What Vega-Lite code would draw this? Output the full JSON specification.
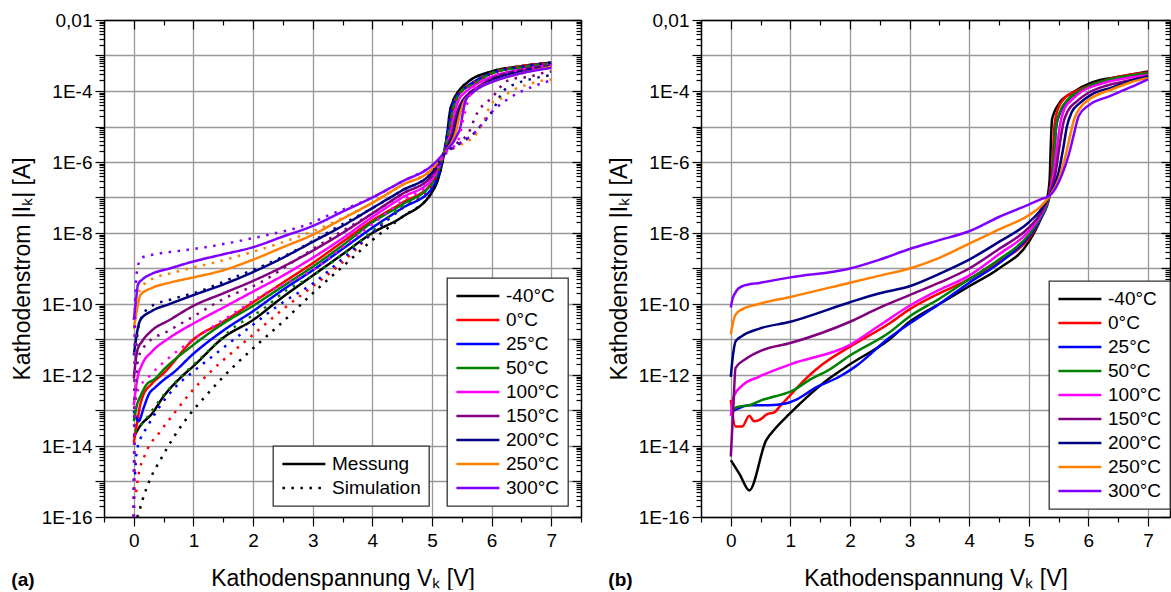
{
"$schema": "https://vega.github.io/schema/vega-lite/v6.json",
"padding": {"left": 11, "top": 11, "right": 0, "bottom": 0},
"config": {
 "font": "Liberation Sans",
 "view": {"stroke": null},
 "axis": {"labelFont": "Liberation Sans", "titleFont": "Liberation Sans", "labelFontSize": 19, "titleFontSize": 23, "titleFontWeight": "normal", "labelColor": "#000", "titleColor": "#000", "domainColor": "#000", "domainWidth": 1.5, "tickColor": "#000", "tickWidth": 1.2, "gridColor": "#999999", "gridWidth": 1.3, "labelFlush": false, "labelOverlap": false},
 "legend": {"labelFont": "Liberation Sans", "labelFontSize": 19, "labelColor": "#000", "title": null, "orient": "none", "direction": "vertical", "symbolType": "M-1,0H4", "symbolSize": 296, "symbolStrokeWidth": 2.5, "labelOffset": 31, "rowPadding": 4, "padding": 8, "strokeColor": "#333333", "strokeWidth": 1.3, "fillColor": "#ffffff", "cornerRadius": 0}
},
"datasets": {
"a": [
{"T":"-40°C","s":"Messung","x":0,"y":1.78e-14},{"T":"-40°C","s":"Messung","x":0.1,"y":3.55e-14},{"T":"-40°C","s":"Messung","x":0.3,"y":7.94e-14},{"T":"-40°C","s":"Messung","x":0.5,"y":2.51e-13},{"T":"-40°C","s":"Messung","x":0.8,"y":8.91e-13},{"T":"-40°C","s":"Messung","x":1,"y":1.78e-12},{"T":"-40°C","s":"Messung","x":1.5,"y":1.12e-11},{"T":"-40°C","s":"Messung","x":2,"y":3.55e-11},{"T":"-40°C","s":"Messung","x":2.5,"y":1.58e-10},{"T":"-40°C","s":"Messung","x":3,"y":6.31e-10},{"T":"-40°C","s":"Messung","x":3.5,"y":2.51e-9},{"T":"-40°C","s":"Messung","x":4,"y":1e-8},{"T":"-40°C","s":"Messung","x":4.5,"y":2.82e-8},{"T":"-40°C","s":"Messung","x":5,"y":1.41e-7},{"T":"-40°C","s":"Messung","x":5.1,"y":3.16e-7},{"T":"-40°C","s":"Messung","x":5.2,"y":1.58e-6},{"T":"-40°C","s":"Messung","x":5.25,"y":5.01e-6},{"T":"-40°C","s":"Messung","x":5.3,"y":2.51e-5},{"T":"-40°C","s":"Messung","x":5.35,"y":5.01e-5},{"T":"-40°C","s":"Messung","x":5.45,"y":1e-4},{"T":"-40°C","s":"Messung","x":5.6,"y":1.78e-4},{"T":"-40°C","s":"Messung","x":6,"y":3.55e-4},{"T":"-40°C","s":"Messung","x":6.5,"y":5.01e-4},{"T":"-40°C","s":"Messung","x":7,"y":6.31e-4},
{"T":"0°C","s":"Messung","x":0,"y":1.26e-14},{"T":"0°C","s":"Messung","x":0.06,"y":5.01e-14},{"T":"0°C","s":"Messung","x":0.1,"y":1.26e-13},{"T":"0°C","s":"Messung","x":0.15,"y":2.51e-13},{"T":"0°C","s":"Messung","x":0.3,"y":5.62e-13},{"T":"0°C","s":"Messung","x":0.5,"y":1.12e-12},{"T":"0°C","s":"Messung","x":1,"y":1e-11},{"T":"0°C","s":"Messung","x":1.5,"y":3.16e-11},{"T":"0°C","s":"Messung","x":2,"y":1.12e-10},{"T":"0°C","s":"Messung","x":2.5,"y":3.98e-10},{"T":"0°C","s":"Messung","x":3,"y":1.41e-9},{"T":"0°C","s":"Messung","x":3.5,"y":5.62e-9},{"T":"0°C","s":"Messung","x":4,"y":2.24e-8},{"T":"0°C","s":"Messung","x":4.5,"y":7.08e-8},{"T":"0°C","s":"Messung","x":5,"y":2.51e-7},{"T":"0°C","s":"Messung","x":5.2,"y":1.78e-6},{"T":"0°C","s":"Messung","x":5.3,"y":1e-5},{"T":"0°C","s":"Messung","x":5.35,"y":3.16e-5},{"T":"0°C","s":"Messung","x":5.4,"y":6.31e-5},{"T":"0°C","s":"Messung","x":5.5,"y":1e-4},{"T":"0°C","s":"Messung","x":5.7,"y":1.78e-4},{"T":"0°C","s":"Messung","x":6,"y":3.16e-4},{"T":"0°C","s":"Messung","x":6.5,"y":5.01e-4},{"T":"0°C","s":"Messung","x":7,"y":6e-4},
{"T":"25°C","s":"Messung","x":0,"y":1e-13},{"T":"25°C","s":"Messung","x":0.08,"y":5.01e-14},{"T":"25°C","s":"Messung","x":0.17,"y":1.26e-13},{"T":"25°C","s":"Messung","x":0.25,"y":2.82e-13},{"T":"25°C","s":"Messung","x":0.36,"y":4.47e-13},{"T":"25°C","s":"Messung","x":0.53,"y":7.94e-13},{"T":"25°C","s":"Messung","x":0.65,"y":1.12e-12},{"T":"25°C","s":"Messung","x":1,"y":3.98e-12},{"T":"25°C","s":"Messung","x":1.5,"y":1.78e-11},{"T":"25°C","s":"Messung","x":2,"y":6.31e-11},{"T":"25°C","s":"Messung","x":2.5,"y":2.51e-10},{"T":"25°C","s":"Messung","x":3,"y":8.91e-10},{"T":"25°C","s":"Messung","x":3.5,"y":3.55e-9},{"T":"25°C","s":"Messung","x":4,"y":1.41e-8},{"T":"25°C","s":"Messung","x":4.5,"y":5.01e-8},{"T":"25°C","s":"Messung","x":5,"y":1.78e-7},{"T":"25°C","s":"Messung","x":5.2,"y":1.78e-6},{"T":"25°C","s":"Messung","x":5.28,"y":1e-5},{"T":"25°C","s":"Messung","x":5.33,"y":3.16e-5},{"T":"25°C","s":"Messung","x":5.4,"y":6.31e-5},{"T":"25°C","s":"Messung","x":5.5,"y":1e-4},{"T":"25°C","s":"Messung","x":5.7,"y":1.78e-4},{"T":"25°C","s":"Messung","x":6,"y":3.16e-4},{"T":"25°C","s":"Messung","x":6.5,"y":4.8e-4},{"T":"25°C","s":"Messung","x":7,"y":6e-4},
{"T":"50°C","s":"Messung","x":0,"y":5.01e-14},{"T":"50°C","s":"Messung","x":0.06,"y":1.58e-13},{"T":"50°C","s":"Messung","x":0.11,"y":2.51e-13},{"T":"50°C","s":"Messung","x":0.2,"y":5.01e-13},{"T":"50°C","s":"Messung","x":0.36,"y":7.94e-13},{"T":"50°C","s":"Messung","x":0.5,"y":1.41e-12},{"T":"50°C","s":"Messung","x":1,"y":7.08e-12},{"T":"50°C","s":"Messung","x":1.5,"y":2.82e-11},{"T":"50°C","s":"Messung","x":2,"y":8.91e-11},{"T":"50°C","s":"Messung","x":2.5,"y":3.16e-10},{"T":"50°C","s":"Messung","x":3,"y":1.12e-9},{"T":"50°C","s":"Messung","x":3.5,"y":4.47e-9},{"T":"50°C","s":"Messung","x":4,"y":2e-8},{"T":"50°C","s":"Messung","x":4.5,"y":6.31e-8},{"T":"50°C","s":"Messung","x":5,"y":2.51e-7},{"T":"50°C","s":"Messung","x":5.2,"y":1.78e-6},{"T":"50°C","s":"Messung","x":5.3,"y":1e-5},{"T":"50°C","s":"Messung","x":5.35,"y":2.82e-5},{"T":"50°C","s":"Messung","x":5.42,"y":6.31e-5},{"T":"50°C","s":"Messung","x":5.5,"y":1e-4},{"T":"50°C","s":"Messung","x":5.7,"y":1.58e-4},{"T":"50°C","s":"Messung","x":6,"y":3.16e-4},{"T":"50°C","s":"Messung","x":6.5,"y":4.68e-4},{"T":"50°C","s":"Messung","x":7,"y":5.89e-4},
{"T":"100°C","s":"Messung","x":0,"y":1.41e-13},{"T":"100°C","s":"Messung","x":0.06,"y":7.94e-13},{"T":"100°C","s":"Messung","x":0.14,"y":2e-12},{"T":"100°C","s":"Messung","x":0.3,"y":4.47e-12},{"T":"100°C","s":"Messung","x":0.6,"y":1.12e-11},{"T":"100°C","s":"Messung","x":1,"y":2.82e-11},{"T":"100°C","s":"Messung","x":1.5,"y":7.94e-11},{"T":"100°C","s":"Messung","x":2,"y":2.24e-10},{"T":"100°C","s":"Messung","x":2.5,"y":6.31e-10},{"T":"100°C","s":"Messung","x":3,"y":2e-9},{"T":"100°C","s":"Messung","x":3.5,"y":7.08e-9},{"T":"100°C","s":"Messung","x":4,"y":2.82e-8},{"T":"100°C","s":"Messung","x":4.5,"y":1e-7},{"T":"100°C","s":"Messung","x":5,"y":3.16e-7},{"T":"100°C","s":"Messung","x":5.2,"y":1.78e-6},{"T":"100°C","s":"Messung","x":5.32,"y":7.94e-6},{"T":"100°C","s":"Messung","x":5.38,"y":2.51e-5},{"T":"100°C","s":"Messung","x":5.45,"y":5.62e-5},{"T":"100°C","s":"Messung","x":5.55,"y":8.91e-5},{"T":"100°C","s":"Messung","x":5.75,"y":1.58e-4},{"T":"100°C","s":"Messung","x":6,"y":2.51e-4},{"T":"100°C","s":"Messung","x":6.5,"y":3.98e-4},{"T":"100°C","s":"Messung","x":7,"y":5.62e-4},
{"T":"150°C","s":"Messung","x":0,"y":7.94e-13},{"T":"150°C","s":"Messung","x":0.06,"y":5.01e-12},{"T":"150°C","s":"Messung","x":0.14,"y":8.91e-12},{"T":"150°C","s":"Messung","x":0.3,"y":1.78e-11},{"T":"150°C","s":"Messung","x":0.6,"y":3.55e-11},{"T":"150°C","s":"Messung","x":1,"y":8.91e-11},{"T":"150°C","s":"Messung","x":1.5,"y":2e-10},{"T":"150°C","s":"Messung","x":2,"y":4.47e-10},{"T":"150°C","s":"Messung","x":2.5,"y":1.12e-9},{"T":"150°C","s":"Messung","x":3,"y":3.16e-9},{"T":"150°C","s":"Messung","x":3.5,"y":1e-8},{"T":"150°C","s":"Messung","x":4,"y":3.55e-8},{"T":"150°C","s":"Messung","x":4.5,"y":1.26e-7},{"T":"150°C","s":"Messung","x":5,"y":3.98e-7},{"T":"150°C","s":"Messung","x":5.2,"y":1.78e-6},{"T":"150°C","s":"Messung","x":5.35,"y":7.94e-6},{"T":"150°C","s":"Messung","x":5.42,"y":2.51e-5},{"T":"150°C","s":"Messung","x":5.5,"y":5.01e-5},{"T":"150°C","s":"Messung","x":5.6,"y":7.94e-5},{"T":"150°C","s":"Messung","x":5.8,"y":1.41e-4},{"T":"150°C","s":"Messung","x":6,"y":2.24e-4},{"T":"150°C","s":"Messung","x":6.5,"y":3.98e-4},{"T":"150°C","s":"Messung","x":7,"y":5.25e-4},
{"T":"200°C","s":"Messung","x":0,"y":3.55e-12},{"T":"200°C","s":"Messung","x":0.06,"y":1.78e-11},{"T":"200°C","s":"Messung","x":0.11,"y":3.55e-11},{"T":"200°C","s":"Messung","x":0.3,"y":6.31e-11},{"T":"200°C","s":"Messung","x":0.6,"y":1e-10},{"T":"200°C","s":"Messung","x":1,"y":1.78e-10},{"T":"200°C","s":"Messung","x":1.5,"y":3.55e-10},{"T":"200°C","s":"Messung","x":2,"y":7.94e-10},{"T":"200°C","s":"Messung","x":2.5,"y":2e-9},{"T":"200°C","s":"Messung","x":3,"y":5.62e-9},{"T":"200°C","s":"Messung","x":3.5,"y":1.58e-8},{"T":"200°C","s":"Messung","x":4,"y":5.01e-8},{"T":"200°C","s":"Messung","x":4.5,"y":1.58e-7},{"T":"200°C","s":"Messung","x":5,"y":5.01e-7},{"T":"200°C","s":"Messung","x":5.2,"y":1.78e-6},{"T":"200°C","s":"Messung","x":5.38,"y":7.94e-6},{"T":"200°C","s":"Messung","x":5.45,"y":2.51e-5},{"T":"200°C","s":"Messung","x":5.52,"y":5.01e-5},{"T":"200°C","s":"Messung","x":5.62,"y":7.94e-5},{"T":"200°C","s":"Messung","x":5.8,"y":1.26e-4},{"T":"200°C","s":"Messung","x":6,"y":2e-4},{"T":"200°C","s":"Messung","x":6.5,"y":3.55e-4},{"T":"200°C","s":"Messung","x":7,"y":5.01e-4},
{"T":"250°C","s":"Messung","x":0,"y":2e-11},{"T":"250°C","s":"Messung","x":0.06,"y":7.94e-11},{"T":"250°C","s":"Messung","x":0.11,"y":1.78e-10},{"T":"250°C","s":"Messung","x":0.3,"y":2.82e-10},{"T":"250°C","s":"Messung","x":0.6,"y":3.98e-10},{"T":"250°C","s":"Messung","x":1,"y":5.62e-10},{"T":"250°C","s":"Messung","x":1.5,"y":8.91e-10},{"T":"250°C","s":"Messung","x":2,"y":1.78e-9},{"T":"250°C","s":"Messung","x":2.5,"y":3.98e-9},{"T":"250°C","s":"Messung","x":3,"y":8.91e-9},{"T":"250°C","s":"Messung","x":3.5,"y":2.51e-8},{"T":"250°C","s":"Messung","x":4,"y":7.08e-8},{"T":"250°C","s":"Messung","x":4.5,"y":2.24e-7},{"T":"250°C","s":"Messung","x":5,"y":6.31e-7},{"T":"250°C","s":"Messung","x":5.2,"y":1.78e-6},{"T":"250°C","s":"Messung","x":5.4,"y":7.08e-6},{"T":"250°C","s":"Messung","x":5.47,"y":2.24e-5},{"T":"250°C","s":"Messung","x":5.54,"y":5.01e-5},{"T":"250°C","s":"Messung","x":5.65,"y":7.94e-5},{"T":"250°C","s":"Messung","x":5.8,"y":1.26e-4},{"T":"250°C","s":"Messung","x":6,"y":1.78e-4},{"T":"250°C","s":"Messung","x":6.5,"y":3.16e-4},{"T":"250°C","s":"Messung","x":7,"y":4.8e-4},
{"T":"300°C","s":"Messung","x":0,"y":3.55e-11},{"T":"300°C","s":"Messung","x":0.03,"y":1e-10},{"T":"300°C","s":"Messung","x":0.07,"y":3.55e-10},{"T":"300°C","s":"Messung","x":0.15,"y":5.01e-10},{"T":"300°C","s":"Messung","x":0.3,"y":7.08e-10},{"T":"300°C","s":"Messung","x":0.6,"y":1e-9},{"T":"300°C","s":"Messung","x":1,"y":1.58e-9},{"T":"300°C","s":"Messung","x":1.5,"y":2.51e-9},{"T":"300°C","s":"Messung","x":2,"y":3.98e-9},{"T":"300°C","s":"Messung","x":2.5,"y":7.94e-9},{"T":"300°C","s":"Messung","x":3,"y":1.58e-8},{"T":"300°C","s":"Messung","x":3.5,"y":3.98e-8},{"T":"300°C","s":"Messung","x":4,"y":1e-7},{"T":"300°C","s":"Messung","x":4.5,"y":2.82e-7},{"T":"300°C","s":"Messung","x":5,"y":7.94e-7},{"T":"300°C","s":"Messung","x":5.2,"y":1.78e-6},{"T":"300°C","s":"Messung","x":5.42,"y":5.62e-6},{"T":"300°C","s":"Messung","x":5.48,"y":1e-5},{"T":"300°C","s":"Messung","x":5.52,"y":2.51e-5},{"T":"300°C","s":"Messung","x":5.57,"y":5.62e-5},{"T":"300°C","s":"Messung","x":5.68,"y":8.91e-5},{"T":"300°C","s":"Messung","x":5.8,"y":1.26e-4},{"T":"300°C","s":"Messung","x":6,"y":1.78e-4},{"T":"300°C","s":"Messung","x":6.5,"y":3.16e-4},{"T":"300°C","s":"Messung","x":7,"y":4.47e-4},
{"T":"-40°C","s":"Simulation","x":0.05,"y":1e-16},{"T":"-40°C","s":"Simulation","x":0.07,"y":1.12e-16},{"T":"-40°C","s":"Simulation","x":0.13,"y":2.51e-16},{"T":"-40°C","s":"Simulation","x":0.27,"y":1.12e-15},{"T":"-40°C","s":"Simulation","x":0.46,"y":4.47e-15},{"T":"-40°C","s":"Simulation","x":0.67,"y":1.78e-14},{"T":"-40°C","s":"Simulation","x":0.92,"y":7.08e-14},{"T":"-40°C","s":"Simulation","x":1.2,"y":2.51e-13},{"T":"-40°C","s":"Simulation","x":1.5,"y":8.91e-13},{"T":"-40°C","s":"Simulation","x":2,"y":5.62e-12},{"T":"-40°C","s":"Simulation","x":2.5,"y":3.16e-11},{"T":"-40°C","s":"Simulation","x":3,"y":2e-10},{"T":"-40°C","s":"Simulation","x":3.5,"y":1.12e-9},{"T":"-40°C","s":"Simulation","x":4,"y":6.31e-9},{"T":"-40°C","s":"Simulation","x":4.5,"y":2.82e-8},{"T":"-40°C","s":"Simulation","x":5,"y":1.41e-7},{"T":"-40°C","s":"Simulation","x":5.2,"y":1.58e-6},{"T":"-40°C","s":"Simulation","x":5.25,"y":5.01e-6},{"T":"-40°C","s":"Simulation","x":5.3,"y":2.51e-5},{"T":"-40°C","s":"Simulation","x":5.35,"y":5.01e-5},{"T":"-40°C","s":"Simulation","x":5.45,"y":1e-4},{"T":"-40°C","s":"Simulation","x":5.6,"y":1.78e-4},{"T":"-40°C","s":"Simulation","x":6,"y":3.55e-4},{"T":"-40°C","s":"Simulation","x":6.5,"y":5.01e-4},{"T":"-40°C","s":"Simulation","x":7,"y":6.31e-4},
{"T":"0°C","s":"Simulation","x":0.04,"y":5.01e-16},{"T":"0°C","s":"Simulation","x":0.07,"y":1.26e-15},{"T":"0°C","s":"Simulation","x":0.2,"y":6.31e-15},{"T":"0°C","s":"Simulation","x":0.44,"y":2.51e-14},{"T":"0°C","s":"Simulation","x":0.69,"y":8.91e-14},{"T":"0°C","s":"Simulation","x":0.95,"y":3.16e-13},{"T":"0°C","s":"Simulation","x":1.26,"y":1.12e-12},{"T":"0°C","s":"Simulation","x":1.59,"y":3.55e-12},{"T":"0°C","s":"Simulation","x":1.94,"y":1.12e-11},{"T":"0°C","s":"Simulation","x":2.5,"y":7.08e-11},{"T":"0°C","s":"Simulation","x":3,"y":3.16e-10},{"T":"0°C","s":"Simulation","x":3.45,"y":1.26e-9},{"T":"0°C","s":"Simulation","x":3.7,"y":3.16e-9},{"T":"0°C","s":"Simulation","x":4,"y":1e-8},{"T":"0°C","s":"Simulation","x":4.5,"y":5.01e-8},{"T":"0°C","s":"Simulation","x":5,"y":2.24e-7},{"T":"0°C","s":"Simulation","x":5.2,"y":1.78e-6},{"T":"0°C","s":"Simulation","x":5.3,"y":1e-5},{"T":"0°C","s":"Simulation","x":5.35,"y":3.16e-5},{"T":"0°C","s":"Simulation","x":5.4,"y":6.31e-5},{"T":"0°C","s":"Simulation","x":5.5,"y":1e-4},{"T":"0°C","s":"Simulation","x":5.7,"y":1.78e-4},{"T":"0°C","s":"Simulation","x":6,"y":3.16e-4},{"T":"0°C","s":"Simulation","x":6.5,"y":5.01e-4},{"T":"0°C","s":"Simulation","x":7,"y":6e-4},
{"T":"25°C","s":"Simulation","x":0.02,"y":1.58e-15},{"T":"25°C","s":"Simulation","x":0.05,"y":7.08e-15},{"T":"25°C","s":"Simulation","x":0.11,"y":1.58e-14},{"T":"25°C","s":"Simulation","x":0.21,"y":3.16e-14},{"T":"25°C","s":"Simulation","x":0.43,"y":1.26e-13},{"T":"25°C","s":"Simulation","x":0.69,"y":4.47e-13},{"T":"25°C","s":"Simulation","x":1,"y":1.26e-12},{"T":"25°C","s":"Simulation","x":1.45,"y":5.01e-12},{"T":"25°C","s":"Simulation","x":1.95,"y":2.24e-11},{"T":"25°C","s":"Simulation","x":2.46,"y":1e-10},{"T":"25°C","s":"Simulation","x":3.02,"y":3.98e-10},{"T":"25°C","s":"Simulation","x":3.52,"y":2e-9},{"T":"25°C","s":"Simulation","x":4,"y":1e-8},{"T":"25°C","s":"Simulation","x":4.5,"y":5.01e-8},{"T":"25°C","s":"Simulation","x":5,"y":1.78e-7},{"T":"25°C","s":"Simulation","x":5.2,"y":1.78e-6},{"T":"25°C","s":"Simulation","x":5.28,"y":1e-5},{"T":"25°C","s":"Simulation","x":5.33,"y":3.16e-5},{"T":"25°C","s":"Simulation","x":5.4,"y":6.31e-5},{"T":"25°C","s":"Simulation","x":5.5,"y":1e-4},{"T":"25°C","s":"Simulation","x":5.7,"y":1.78e-4},{"T":"25°C","s":"Simulation","x":6,"y":3.16e-4},{"T":"25°C","s":"Simulation","x":6.5,"y":4.8e-4},{"T":"25°C","s":"Simulation","x":7,"y":6e-4},
{"T":"50°C","s":"Simulation","x":0.02,"y":2.51e-14},{"T":"50°C","s":"Simulation","x":0.15,"y":4.47e-14},{"T":"50°C","s":"Simulation","x":0.53,"y":3.16e-13},{"T":"50°C","s":"Simulation","x":0.82,"y":1e-12},{"T":"50°C","s":"Simulation","x":1.2,"y":3.98e-12},{"T":"50°C","s":"Simulation","x":1.65,"y":2e-11},{"T":"50°C","s":"Simulation","x":2.2,"y":7.94e-11},{"T":"50°C","s":"Simulation","x":2.57,"y":2.51e-10},{"T":"50°C","s":"Simulation","x":2.9,"y":5.01e-10},{"T":"50°C","s":"Simulation","x":3.43,"y":2e-9},{"T":"50°C","s":"Simulation","x":4,"y":1.12e-8},{"T":"50°C","s":"Simulation","x":4.5,"y":5.62e-8},{"T":"50°C","s":"Simulation","x":5,"y":2.51e-7},{"T":"50°C","s":"Simulation","x":5.2,"y":1.78e-6},{"T":"50°C","s":"Simulation","x":5.3,"y":1e-5},{"T":"50°C","s":"Simulation","x":5.35,"y":2.82e-5},{"T":"50°C","s":"Simulation","x":5.42,"y":6.31e-5},{"T":"50°C","s":"Simulation","x":5.5,"y":1e-4},{"T":"50°C","s":"Simulation","x":5.7,"y":1.58e-4},{"T":"50°C","s":"Simulation","x":6,"y":3.16e-4},{"T":"50°C","s":"Simulation","x":6.5,"y":4.68e-4},{"T":"50°C","s":"Simulation","x":7,"y":5.89e-4},
{"T":"100°C","s":"Simulation","x":0,"y":1e-16},{"T":"100°C","s":"Simulation","x":0.01,"y":1e-14},{"T":"100°C","s":"Simulation","x":0.02,"y":1e-13},{"T":"100°C","s":"Simulation","x":0.05,"y":3.16e-13},{"T":"100°C","s":"Simulation","x":0.28,"y":1e-12},{"T":"100°C","s":"Simulation","x":0.6,"y":3.16e-12},{"T":"100°C","s":"Simulation","x":0.95,"y":8.91e-12},{"T":"100°C","s":"Simulation","x":1.5,"y":3.55e-11},{"T":"100°C","s":"Simulation","x":2.26,"y":2.24e-10},{"T":"100°C","s":"Simulation","x":3.04,"y":1e-9},{"T":"100°C","s":"Simulation","x":3.5,"y":3.98e-9},{"T":"100°C","s":"Simulation","x":4,"y":1.78e-8},{"T":"100°C","s":"Simulation","x":4.5,"y":7.94e-8},{"T":"100°C","s":"Simulation","x":5,"y":3.16e-7},{"T":"100°C","s":"Simulation","x":5.2,"y":1.58e-6},{"T":"100°C","s":"Simulation","x":5.44,"y":3.98e-6},{"T":"100°C","s":"Simulation","x":5.53,"y":1.78e-5},{"T":"100°C","s":"Simulation","x":5.62,"y":6.31e-5},{"T":"100°C","s":"Simulation","x":5.75,"y":1.41e-4},{"T":"100°C","s":"Simulation","x":6,"y":2.51e-4},{"T":"100°C","s":"Simulation","x":6.5,"y":3.98e-4},{"T":"100°C","s":"Simulation","x":7,"y":5.37e-4},
{"T":"150°C","s":"Simulation","x":0,"y":1e-16},{"T":"150°C","s":"Simulation","x":0.01,"y":1e-14},{"T":"150°C","s":"Simulation","x":0.03,"y":3.16e-13},{"T":"150°C","s":"Simulation","x":0.08,"y":3.16e-12},{"T":"150°C","s":"Simulation","x":0.2,"y":7.08e-12},{"T":"150°C","s":"Simulation","x":0.59,"y":1.78e-11},{"T":"150°C","s":"Simulation","x":1,"y":4.47e-11},{"T":"150°C","s":"Simulation","x":1.51,"y":1.41e-10},{"T":"150°C","s":"Simulation","x":2.12,"y":3.98e-10},{"T":"150°C","s":"Simulation","x":2.68,"y":1.58e-9},{"T":"150°C","s":"Simulation","x":3.1,"y":4.47e-9},{"T":"150°C","s":"Simulation","x":3.49,"y":1.12e-8},{"T":"150°C","s":"Simulation","x":4,"y":3.55e-8},{"T":"150°C","s":"Simulation","x":4.5,"y":1.26e-7},{"T":"150°C","s":"Simulation","x":5,"y":3.98e-7},{"T":"150°C","s":"Simulation","x":5.2,"y":1.58e-6},{"T":"150°C","s":"Simulation","x":5.4,"y":3.16e-6},{"T":"150°C","s":"Simulation","x":5.64,"y":7.94e-6},{"T":"150°C","s":"Simulation","x":5.72,"y":1.78e-5},{"T":"150°C","s":"Simulation","x":5.83,"y":3.55e-5},{"T":"150°C","s":"Simulation","x":6,"y":6.31e-5},{"T":"150°C","s":"Simulation","x":6.23,"y":1.78e-4},{"T":"150°C","s":"Simulation","x":6.39,"y":2.24e-4},{"T":"150°C","s":"Simulation","x":6.62,"y":2.51e-4},{"T":"150°C","s":"Simulation","x":6.84,"y":3.16e-4},{"T":"150°C","s":"Simulation","x":7,"y":3.55e-4},
{"T":"200°C","s":"Simulation","x":0,"y":1e-16},{"T":"200°C","s":"Simulation","x":0.01,"y":3.16e-14},{"T":"200°C","s":"Simulation","x":0.03,"y":3.16e-12},{"T":"200°C","s":"Simulation","x":0.1,"y":3.16e-11},{"T":"200°C","s":"Simulation","x":0.26,"y":7.94e-11},{"T":"200°C","s":"Simulation","x":0.67,"y":1.41e-10},{"T":"200°C","s":"Simulation","x":1.09,"y":2.24e-10},{"T":"200°C","s":"Simulation","x":1.68,"y":5.62e-10},{"T":"200°C","s":"Simulation","x":2.2,"y":1.26e-9},{"T":"200°C","s":"Simulation","x":2.76,"y":3.55e-9},{"T":"200°C","s":"Simulation","x":3.5,"y":1.78e-8},{"T":"200°C","s":"Simulation","x":4,"y":5.01e-8},{"T":"200°C","s":"Simulation","x":4.5,"y":1.58e-7},{"T":"200°C","s":"Simulation","x":5,"y":5.01e-7},{"T":"200°C","s":"Simulation","x":5.2,"y":1.58e-6},{"T":"200°C","s":"Simulation","x":5.45,"y":3.16e-6},{"T":"200°C","s":"Simulation","x":5.7,"y":6.31e-6},{"T":"200°C","s":"Simulation","x":5.86,"y":1.26e-5},{"T":"200°C","s":"Simulation","x":6,"y":2.51e-5},{"T":"200°C","s":"Simulation","x":6.2,"y":1e-4},{"T":"200°C","s":"Simulation","x":6.4,"y":1.58e-4},{"T":"200°C","s":"Simulation","x":6.7,"y":2.24e-4},{"T":"200°C","s":"Simulation","x":7,"y":2.82e-4},
{"T":"250°C","s":"Simulation","x":0,"y":1e-16},{"T":"250°C","s":"Simulation","x":0.01,"y":1e-13},{"T":"250°C","s":"Simulation","x":0.03,"y":3.16e-11},{"T":"250°C","s":"Simulation","x":0.1,"y":2.51e-10},{"T":"250°C","s":"Simulation","x":0.25,"y":4.47e-10},{"T":"250°C","s":"Simulation","x":0.7,"y":7.94e-10},{"T":"250°C","s":"Simulation","x":1.31,"y":1.41e-9},{"T":"250°C","s":"Simulation","x":2.15,"y":3.55e-9},{"T":"250°C","s":"Simulation","x":3,"y":1.12e-8},{"T":"250°C","s":"Simulation","x":4,"y":7.08e-8},{"T":"250°C","s":"Simulation","x":4.5,"y":2.24e-7},{"T":"250°C","s":"Simulation","x":5,"y":6.31e-7},{"T":"250°C","s":"Simulation","x":5.2,"y":1.58e-6},{"T":"250°C","s":"Simulation","x":5.5,"y":3.16e-6},{"T":"250°C","s":"Simulation","x":5.75,"y":6.31e-6},{"T":"250°C","s":"Simulation","x":5.88,"y":1.58e-5},{"T":"250°C","s":"Simulation","x":6,"y":4.47e-5},{"T":"250°C","s":"Simulation","x":6.17,"y":6.31e-5},{"T":"250°C","s":"Simulation","x":6.33,"y":1e-4},{"T":"250°C","s":"Simulation","x":6.64,"y":1.58e-4},{"T":"250°C","s":"Simulation","x":6.87,"y":2e-4},{"T":"250°C","s":"Simulation","x":7,"y":2.1e-4},
{"T":"300°C","s":"Simulation","x":0,"y":1e-16},{"T":"300°C","s":"Simulation","x":0.01,"y":1e-12},{"T":"300°C","s":"Simulation","x":0.02,"y":1e-10},{"T":"300°C","s":"Simulation","x":0.06,"y":1e-9},{"T":"300°C","s":"Simulation","x":0.13,"y":2e-9},{"T":"300°C","s":"Simulation","x":0.35,"y":2.51e-9},{"T":"300°C","s":"Simulation","x":0.78,"y":3.16e-9},{"T":"300°C","s":"Simulation","x":1.2,"y":3.98e-9},{"T":"300°C","s":"Simulation","x":1.84,"y":6.31e-9},{"T":"300°C","s":"Simulation","x":2.26,"y":8.91e-9},{"T":"300°C","s":"Simulation","x":2.93,"y":1.78e-8},{"T":"300°C","s":"Simulation","x":3.27,"y":3.16e-8},{"T":"300°C","s":"Simulation","x":4,"y":1e-7},{"T":"300°C","s":"Simulation","x":4.5,"y":2.82e-7},{"T":"300°C","s":"Simulation","x":5,"y":7.94e-7},{"T":"300°C","s":"Simulation","x":5.2,"y":1.58e-6},{"T":"300°C","s":"Simulation","x":5.53,"y":3.98e-6},{"T":"300°C","s":"Simulation","x":5.67,"y":5.62e-6},{"T":"300°C","s":"Simulation","x":5.83,"y":1.12e-5},{"T":"300°C","s":"Simulation","x":6,"y":2.51e-5},{"T":"300°C","s":"Simulation","x":6.3,"y":6.31e-5},{"T":"300°C","s":"Simulation","x":6.73,"y":1.41e-4},{"T":"300°C","s":"Simulation","x":7,"y":2e-4}
],
"b": [
{"T":"-40°C","x":0,"y":3.98e-15},{"T":"-40°C","x":0.15,"y":1.58e-15},{"T":"-40°C","x":0.31,"y":5.62e-16},{"T":"-40°C","x":0.59,"y":1.41e-14},{"T":"-40°C","x":0.75,"y":3.16e-14},{"T":"-40°C","x":0.98,"y":7.94e-14},{"T":"-40°C","x":1.26,"y":2.24e-13},{"T":"-40°C","x":1.65,"y":7.94e-13},{"T":"-40°C","x":2,"y":2e-12},{"T":"-40°C","x":2.66,"y":1e-11},{"T":"-40°C","x":3,"y":3.16e-11},{"T":"-40°C","x":3.5,"y":1e-10},{"T":"-40°C","x":4,"y":3.16e-10},{"T":"-40°C","x":4.5,"y":1e-9},{"T":"-40°C","x":5,"y":5.62e-9},{"T":"-40°C","x":5.2,"y":2.51e-8},{"T":"-40°C","x":5.3,"y":7.94e-8},{"T":"-40°C","x":5.35,"y":3.16e-7},{"T":"-40°C","x":5.37,"y":3.16e-6},{"T":"-40°C","x":5.39,"y":1.58e-5},{"T":"-40°C","x":5.51,"y":4.47e-5},{"T":"-40°C","x":5.73,"y":8.91e-5},{"T":"-40°C","x":6.07,"y":1.78e-4},{"T":"-40°C","x":6.52,"y":2.51e-4},{"T":"-40°C","x":7,"y":3.55e-4},
{"T":"0°C","x":0,"y":2e-13},{"T":"0°C","x":0.08,"y":3.55e-14},{"T":"0°C","x":0.19,"y":3.55e-14},{"T":"0°C","x":0.31,"y":7.08e-14},{"T":"0°C","x":0.39,"y":5.01e-14},{"T":"0°C","x":0.5,"y":5.62e-14},{"T":"0°C","x":0.61,"y":7.94e-14},{"T":"0°C","x":0.73,"y":8.91e-14},{"T":"0°C","x":0.84,"y":1.41e-13},{"T":"0°C","x":0.98,"y":2.51e-13},{"T":"0°C","x":1.26,"y":7.94e-13},{"T":"0°C","x":1.54,"y":2e-12},{"T":"0°C","x":2,"y":6.31e-12},{"T":"0°C","x":2.66,"y":2.82e-11},{"T":"0°C","x":3,"y":7.08e-11},{"T":"0°C","x":3.5,"y":2e-10},{"T":"0°C","x":4,"y":5.01e-10},{"T":"0°C","x":4.5,"y":1.58e-9},{"T":"0°C","x":5,"y":7.08e-9},{"T":"0°C","x":5.2,"y":2.51e-8},{"T":"0°C","x":5.35,"y":1.26e-7},{"T":"0°C","x":5.4,"y":1e-6},{"T":"0°C","x":5.43,"y":1e-5},{"T":"0°C","x":5.48,"y":2.82e-5},{"T":"0°C","x":5.6,"y":6.31e-5},{"T":"0°C","x":5.8,"y":1e-4},{"T":"0°C","x":6.1,"y":1.58e-4},{"T":"0°C","x":6.5,"y":2.51e-4},{"T":"0°C","x":7,"y":3.31e-4},
{"T":"25°C","x":0,"y":8.91e-14},{"T":"25°C","x":0.11,"y":1.12e-13},{"T":"25°C","x":0.31,"y":1.41e-13},{"T":"25°C","x":0.64,"y":1.41e-13},{"T":"25°C","x":0.92,"y":1.58e-13},{"T":"25°C","x":1.09,"y":2e-13},{"T":"25°C","x":1.43,"y":4.47e-13},{"T":"25°C","x":1.82,"y":8.91e-13},{"T":"25°C","x":2.1,"y":1.78e-12},{"T":"25°C","x":2.66,"y":1.12e-11},{"T":"25°C","x":3,"y":2.82e-11},{"T":"25°C","x":3.5,"y":1e-10},{"T":"25°C","x":4,"y":3.98e-10},{"T":"25°C","x":4.5,"y":1.41e-9},{"T":"25°C","x":5,"y":7.94e-9},{"T":"25°C","x":5.2,"y":2.51e-8},{"T":"25°C","x":5.35,"y":1.12e-7},{"T":"25°C","x":5.42,"y":1e-6},{"T":"25°C","x":5.46,"y":1e-5},{"T":"25°C","x":5.53,"y":2.51e-5},{"T":"25°C","x":5.66,"y":5.62e-5},{"T":"25°C","x":5.87,"y":1e-4},{"T":"25°C","x":6.1,"y":1.51e-4},{"T":"25°C","x":6.5,"y":2.34e-4},{"T":"25°C","x":7,"y":3.02e-4},
{"T":"50°C","x":0,"y":1e-13},{"T":"50°C","x":0.11,"y":1.26e-13},{"T":"50°C","x":0.31,"y":1.41e-13},{"T":"50°C","x":0.53,"y":2e-13},{"T":"50°C","x":0.75,"y":2.51e-13},{"T":"50°C","x":1.03,"y":3.55e-13},{"T":"50°C","x":1.31,"y":7.08e-13},{"T":"50°C","x":1.65,"y":1.41e-12},{"T":"50°C","x":2,"y":3.55e-12},{"T":"50°C","x":2.66,"y":1.58e-11},{"T":"50°C","x":3,"y":4.47e-11},{"T":"50°C","x":3.5,"y":1.41e-10},{"T":"50°C","x":4,"y":5.01e-10},{"T":"50°C","x":4.5,"y":1.78e-9},{"T":"50°C","x":5,"y":8.91e-9},{"T":"50°C","x":5.2,"y":2.82e-8},{"T":"50°C","x":5.35,"y":1.12e-7},{"T":"50°C","x":5.42,"y":1e-6},{"T":"50°C","x":5.46,"y":1e-5},{"T":"50°C","x":5.52,"y":2.51e-5},{"T":"50°C","x":5.65,"y":5.62e-5},{"T":"50°C","x":5.85,"y":1e-4},{"T":"50°C","x":6.1,"y":1.58e-4},{"T":"50°C","x":6.5,"y":2.4e-4},{"T":"50°C","x":7,"y":3.16e-4},
{"T":"100°C","x":0,"y":7.08e-14},{"T":"100°C","x":0.05,"y":2.51e-13},{"T":"100°C","x":0.19,"y":5.01e-13},{"T":"100°C","x":0.47,"y":8.91e-13},{"T":"100°C","x":1,"y":2e-12},{"T":"100°C","x":2,"y":7.08e-12},{"T":"100°C","x":2.5,"y":2.51e-11},{"T":"100°C","x":3,"y":8.91e-11},{"T":"100°C","x":3.5,"y":2.51e-10},{"T":"100°C","x":4,"y":6.31e-10},{"T":"100°C","x":4.5,"y":2.51e-9},{"T":"100°C","x":5,"y":1.12e-8},{"T":"100°C","x":5.2,"y":3.16e-8},{"T":"100°C","x":5.33,"y":1e-7},{"T":"100°C","x":5.42,"y":5.01e-7},{"T":"100°C","x":5.48,"y":3.16e-6},{"T":"100°C","x":5.53,"y":1.26e-5},{"T":"100°C","x":5.6,"y":3.16e-5},{"T":"100°C","x":5.72,"y":5.62e-5},{"T":"100°C","x":5.9,"y":1e-4},{"T":"100°C","x":6.2,"y":1.58e-4},{"T":"100°C","x":6.6,"y":2.24e-4},{"T":"100°C","x":7,"y":2.82e-4},
{"T":"150°C","x":0,"y":5.01e-15},{"T":"150°C","x":0.04,"y":1e-13},{"T":"150°C","x":0.08,"y":1.58e-12},{"T":"150°C","x":0.25,"y":2.82e-12},{"T":"150°C","x":0.53,"y":5.01e-12},{"T":"150°C","x":1,"y":7.94e-12},{"T":"150°C","x":2,"y":3.16e-11},{"T":"150°C","x":2.5,"y":7.94e-11},{"T":"150°C","x":3,"y":1.78e-10},{"T":"150°C","x":3.5,"y":3.98e-10},{"T":"150°C","x":4,"y":1e-9},{"T":"150°C","x":4.5,"y":3.55e-9},{"T":"150°C","x":5,"y":1.41e-8},{"T":"150°C","x":5.2,"y":3.55e-8},{"T":"150°C","x":5.33,"y":1e-7},{"T":"150°C","x":5.45,"y":5.01e-7},{"T":"150°C","x":5.52,"y":3.16e-6},{"T":"150°C","x":5.58,"y":1.26e-5},{"T":"150°C","x":5.66,"y":2.82e-5},{"T":"150°C","x":5.8,"y":5.01e-5},{"T":"150°C","x":6,"y":8.91e-5},{"T":"150°C","x":6.3,"y":1.41e-4},{"T":"150°C","x":6.7,"y":2e-4},{"T":"150°C","x":7,"y":2.69e-4},
{"T":"200°C","x":0,"y":8.91e-13},{"T":"200°C","x":0.04,"y":3.98e-12},{"T":"200°C","x":0.08,"y":8.91e-12},{"T":"200°C","x":0.19,"y":1.26e-11},{"T":"200°C","x":0.47,"y":2e-11},{"T":"200°C","x":1,"y":3.16e-11},{"T":"200°C","x":2,"y":1.12e-10},{"T":"200°C","x":2.5,"y":2e-10},{"T":"200°C","x":3,"y":3.16e-10},{"T":"200°C","x":3.5,"y":7.08e-10},{"T":"200°C","x":4,"y":1.78e-9},{"T":"200°C","x":4.5,"y":5.62e-9},{"T":"200°C","x":5,"y":2e-8},{"T":"200°C","x":5.2,"y":4.47e-8},{"T":"200°C","x":5.33,"y":1e-7},{"T":"200°C","x":5.5,"y":5.01e-7},{"T":"200°C","x":5.58,"y":2.51e-6},{"T":"200°C","x":5.64,"y":1e-5},{"T":"200°C","x":5.72,"y":2.51e-5},{"T":"200°C","x":5.85,"y":4.47e-5},{"T":"200°C","x":6.05,"y":7.94e-5},{"T":"200°C","x":6.4,"y":1.26e-4},{"T":"200°C","x":6.7,"y":1.91e-4},{"T":"200°C","x":7,"y":2.51e-4},
{"T":"250°C","x":0,"y":1.41e-11},{"T":"250°C","x":0.04,"y":3.16e-11},{"T":"250°C","x":0.08,"y":5.01e-11},{"T":"250°C","x":0.19,"y":7.08e-11},{"T":"250°C","x":0.47,"y":1e-10},{"T":"250°C","x":1,"y":1.58e-10},{"T":"250°C","x":2,"y":3.98e-10},{"T":"250°C","x":2.5,"y":6.31e-10},{"T":"250°C","x":3,"y":1e-9},{"T":"250°C","x":3.5,"y":2e-9},{"T":"250°C","x":4,"y":5.01e-9},{"T":"250°C","x":4.5,"y":1.26e-8},{"T":"250°C","x":5,"y":3.16e-8},{"T":"250°C","x":5.2,"y":5.62e-8},{"T":"250°C","x":5.33,"y":1e-7},{"T":"250°C","x":5.5,"y":3.16e-7},{"T":"250°C","x":5.62,"y":1.58e-6},{"T":"250°C","x":5.7,"y":6.31e-6},{"T":"250°C","x":5.76,"y":1.58e-5},{"T":"250°C","x":5.85,"y":3.16e-5},{"T":"250°C","x":6.05,"y":6.31e-5},{"T":"250°C","x":6.4,"y":1.12e-4},{"T":"250°C","x":6.7,"y":1.74e-4},{"T":"250°C","x":7,"y":2.34e-4},
{"T":"300°C","x":0,"y":7.94e-11},{"T":"300°C","x":0.03,"y":1.41e-10},{"T":"300°C","x":0.07,"y":2e-10},{"T":"300°C","x":0.19,"y":3.16e-10},{"T":"300°C","x":0.5,"y":3.98e-10},{"T":"300°C","x":1,"y":5.62e-10},{"T":"300°C","x":2,"y":1e-9},{"T":"300°C","x":2.5,"y":1.78e-9},{"T":"300°C","x":3,"y":3.55e-9},{"T":"300°C","x":3.5,"y":6.31e-9},{"T":"300°C","x":4,"y":1.12e-8},{"T":"300°C","x":4.5,"y":2.82e-8},{"T":"300°C","x":5,"y":6.31e-8},{"T":"300°C","x":5.2,"y":8.91e-8},{"T":"300°C","x":5.35,"y":1.12e-7},{"T":"300°C","x":5.56,"y":4.47e-7},{"T":"300°C","x":5.67,"y":1.58e-6},{"T":"300°C","x":5.76,"y":6.31e-6},{"T":"300°C","x":5.84,"y":2e-5},{"T":"300°C","x":6.01,"y":3.98e-5},{"T":"300°C","x":6.35,"y":7.08e-5},{"T":"300°C","x":6.7,"y":1.26e-4},{"T":"300°C","x":7,"y":2.14e-4}
]
},
"spacing": 26,
"resolve": {"scale": {"color": "independent", "strokeDash": "independent", "x": "independent", "y": "independent"}, "legend": {"color": "independent", "strokeDash": "independent"}},
"hconcat": [
{
 "width": 477, "height": 497,
 "data": {"name": "a"},
 "title": {"text": "(a)", "orient": "bottom", "anchor": "start", "frame": "bounds", "fontSize": 19, "fontWeight": "bold", "font": "Liberation Sans", "color": "#000", "offset": -19},
 "layer": [
  {
   "mark": {"type": "line", "interpolate": "monotone", "strokeWidth": 2.5, "clip": true},
   "encoding": {
    "x": {"field": "x", "type": "quantitative", "scale": {"domain": [-0.5, 7.5], "nice": false, "zero": false},
     "axis": {"orient": "bottom", "title": "Kathodenspannung Vₖ [V]", "values": [-0.5,0,0.5,1,1.5,2,2.5,3,3.5,4,4.5,5,5.5,6,6.5,7,7.5], "labelExpr": "datum.value % 1 == 0 ? '' + datum.value : ''", "grid": true, "gridOpacity": {"condition": {"test": "datum.value % 1 == 0", "value": 1}, "value": 0}, "tickSize": {"condition": {"test": "datum.value % 1 == 0", "value": 9}, "value": 5}, "labelPadding": 5, "titlePadding": 17}},
    "y": {"field": "y", "type": "quantitative", "scale": {"type": "log", "domain": [1e-16, 0.01], "nice": false},
     "axis": {"orient": "left", "title": "Kathodenstrom |Iₖ| [A]", "values": [1e-16,2e-16,3e-16,4e-16,5e-16,6e-16,7e-16,8e-16,9e-16,1e-15,2e-15,3e-15,4e-15,5e-15,6e-15,7e-15,8e-15,9e-15,1e-14,2e-14,3e-14,4e-14,5e-14,6e-14,7e-14,8e-14,9e-14,1e-13,2e-13,3e-13,4e-13,5e-13,6e-13,7e-13,8e-13,9e-13,1e-12,2e-12,3e-12,4e-12,5e-12,6e-12,7e-12,8e-12,9e-12,1e-11,2e-11,3e-11,4e-11,5e-11,6e-11,7e-11,8e-11,9e-11,1e-10,2e-10,3e-10,4e-10,5e-10,6e-10,7e-10,8e-10,9e-10,1e-9,2e-9,3e-9,4e-9,5e-9,6e-9,7e-9,8e-9,9e-9,1e-8,2e-8,3e-8,4e-8,5e-8,6e-8,7e-8,8e-8,9e-8,1e-7,2e-7,3e-7,4e-7,5e-7,6e-7,7e-7,8e-7,9e-7,1e-6,2e-6,3e-6,4e-6,5e-6,6e-6,7e-6,8e-6,9e-6,1e-5,2e-5,3e-5,4e-5,5e-5,6e-5,7e-5,8e-5,9e-5,1e-4,2e-4,3e-4,4e-4,5e-4,6e-4,7e-4,8e-4,9e-4,1e-3,2e-3,3e-3,4e-3,5e-3,6e-3,7e-3,8e-3,9e-3,1e-2],
      "labelExpr": "abs(log(datum.value)/LN10 - round(log(datum.value)/LN10)) > 0.01 ? '' : (round(log(datum.value)/LN10) % 2 != 0 ? '' : (round(log(datum.value)/LN10) == -2 ? '0,01' : '1E' + round(log(datum.value)/LN10)))",
      "grid": true, "gridOpacity": {"condition": {"test": "abs(log(datum.value)/LN10 - round(log(datum.value)/LN10)) < 0.01", "value": 1}, "value": 0},
      "tickSize": {"condition": {"test": "abs(log(datum.value)/LN10 - round(log(datum.value)/LN10)) < 0.01", "value": 9}, "value": 5},
      "labelPadding": 3, "titlePadding": 7}},
    "color": {"field": "T", "type": "nominal", "scale": {"domain": ["-40°C","0°C","25°C","50°C","100°C","150°C","200°C","250°C","300°C"], "range": ["#000000","#ff0000","#0000ff","#008000","#ff00ff","#800080","#000080","#ff8000","#8000ff"]}, "legend": {"legendX": 343, "legendY": 258}},
    "strokeDash": {"field": "s", "type": "nominal", "scale": {"domain": ["Messung","Simulation"], "range": [[1,0],[2.5,6.5]]}, "legend": {"legendX": 169, "legendY": 426, "symbolStrokeColor": "#000000"}}
   }
  },
  {
   "mark": {"type": "point", "opacity": 0},
   "encoding": {
    "x": {"field": "x", "type": "quantitative", "axis": {"orient": "top", "title": null, "labels": false, "grid": false, "values": [-0.5,0,0.5,1,1.5,2,2.5,3,3.5,4,4.5,5,5.5,6,6.5,7,7.5], "tickSize": {"condition": {"test": "datum.value % 1 == 0", "value": -9}, "value": -5}}},
    "y": {"field": "y", "type": "quantitative", "axis": {"orient": "right", "title": null, "labels": false, "grid": false, "values": [1e-16,2e-16,3e-16,4e-16,5e-16,6e-16,7e-16,8e-16,9e-16,1e-15,2e-15,3e-15,4e-15,5e-15,6e-15,7e-15,8e-15,9e-15,1e-14,2e-14,3e-14,4e-14,5e-14,6e-14,7e-14,8e-14,9e-14,1e-13,2e-13,3e-13,4e-13,5e-13,6e-13,7e-13,8e-13,9e-13,1e-12,2e-12,3e-12,4e-12,5e-12,6e-12,7e-12,8e-12,9e-12,1e-11,2e-11,3e-11,4e-11,5e-11,6e-11,7e-11,8e-11,9e-11,1e-10,2e-10,3e-10,4e-10,5e-10,6e-10,7e-10,8e-10,9e-10,1e-9,2e-9,3e-9,4e-9,5e-9,6e-9,7e-9,8e-9,9e-9,1e-8,2e-8,3e-8,4e-8,5e-8,6e-8,7e-8,8e-8,9e-8,1e-7,2e-7,3e-7,4e-7,5e-7,6e-7,7e-7,8e-7,9e-7,1e-6,2e-6,3e-6,4e-6,5e-6,6e-6,7e-6,8e-6,9e-6,1e-5,2e-5,3e-5,4e-5,5e-5,6e-5,7e-5,8e-5,9e-5,1e-4,2e-4,3e-4,4e-4,5e-4,6e-4,7e-4,8e-4,9e-4,1e-3,2e-3,3e-3,4e-3,5e-3,6e-3,7e-3,8e-3,9e-3,1e-2], "tickSize": {"condition": {"test": "abs(log(datum.value)/LN10 - round(log(datum.value)/LN10)) < 0.01", "value": -9}, "value": -5}}}
   }
  }
 ],
 "resolve": {"axis": {"x": "independent", "y": "independent"}}
},
{
 "width": 469, "height": 497,
 "data": {"name": "b"},
 "title": {"text": "(b)", "orient": "bottom", "anchor": "start", "frame": "bounds", "fontSize": 19, "fontWeight": "bold", "font": "Liberation Sans", "color": "#000", "offset": -19},
 "layer": [
  {
   "mark": {"type": "line", "interpolate": "monotone", "strokeWidth": 2.5, "clip": true},
   "encoding": {
    "x": {"field": "x", "type": "quantitative", "scale": {"domain": [-0.5, 7.37], "nice": false, "zero": false},
     "axis": {"orient": "bottom", "title": "Kathodenspannung Vₖ [V]", "values": [-0.5,0,0.5,1,1.5,2,2.5,3,3.5,4,4.5,5,5.5,6,6.5,7], "labelExpr": "datum.value % 1 == 0 ? '' + datum.value : ''", "grid": true, "gridOpacity": {"condition": {"test": "datum.value % 1 == 0", "value": 1}, "value": 0}, "tickSize": {"condition": {"test": "datum.value % 1 == 0", "value": 9}, "value": 5}, "labelPadding": 5, "titlePadding": 17}},
    "y": {"field": "y", "type": "quantitative", "scale": {"type": "log", "domain": [1e-16, 0.01], "nice": false},
     "axis": {"orient": "left", "title": "Kathodenstrom |Iₖ| [A]", "values": [1e-16,2e-16,3e-16,4e-16,5e-16,6e-16,7e-16,8e-16,9e-16,1e-15,2e-15,3e-15,4e-15,5e-15,6e-15,7e-15,8e-15,9e-15,1e-14,2e-14,3e-14,4e-14,5e-14,6e-14,7e-14,8e-14,9e-14,1e-13,2e-13,3e-13,4e-13,5e-13,6e-13,7e-13,8e-13,9e-13,1e-12,2e-12,3e-12,4e-12,5e-12,6e-12,7e-12,8e-12,9e-12,1e-11,2e-11,3e-11,4e-11,5e-11,6e-11,7e-11,8e-11,9e-11,1e-10,2e-10,3e-10,4e-10,5e-10,6e-10,7e-10,8e-10,9e-10,1e-9,2e-9,3e-9,4e-9,5e-9,6e-9,7e-9,8e-9,9e-9,1e-8,2e-8,3e-8,4e-8,5e-8,6e-8,7e-8,8e-8,9e-8,1e-7,2e-7,3e-7,4e-7,5e-7,6e-7,7e-7,8e-7,9e-7,1e-6,2e-6,3e-6,4e-6,5e-6,6e-6,7e-6,8e-6,9e-6,1e-5,2e-5,3e-5,4e-5,5e-5,6e-5,7e-5,8e-5,9e-5,1e-4,2e-4,3e-4,4e-4,5e-4,6e-4,7e-4,8e-4,9e-4,1e-3,2e-3,3e-3,4e-3,5e-3,6e-3,7e-3,8e-3,9e-3,1e-2],
      "labelExpr": "abs(log(datum.value)/LN10 - round(log(datum.value)/LN10)) > 0.01 ? '' : (round(log(datum.value)/LN10) % 2 != 0 ? '' : (round(log(datum.value)/LN10) == -2 ? '0,01' : '1E' + round(log(datum.value)/LN10)))",
      "grid": true, "gridOpacity": {"condition": {"test": "abs(log(datum.value)/LN10 - round(log(datum.value)/LN10)) < 0.01", "value": 1}, "value": 0},
      "tickSize": {"condition": {"test": "abs(log(datum.value)/LN10 - round(log(datum.value)/LN10)) < 0.01", "value": 9}, "value": 5},
      "labelPadding": 3, "titlePadding": 7}},
    "color": {"field": "T", "type": "nominal", "scale": {"domain": ["-40°C","0°C","25°C","50°C","100°C","150°C","200°C","250°C","300°C"], "range": ["#000000","#ff0000","#0000ff","#008000","#ff00ff","#800080","#000080","#ff8000","#8000ff"]}, "legend": {"legendX": 348, "legendY": 261}}
   }
  },
  {
   "mark": {"type": "point", "opacity": 0},
   "encoding": {
    "x": {"field": "x", "type": "quantitative", "axis": {"orient": "top", "title": null, "labels": false, "grid": false, "values": [-0.5,0,0.5,1,1.5,2,2.5,3,3.5,4,4.5,5,5.5,6,6.5,7], "tickSize": {"condition": {"test": "datum.value % 1 == 0", "value": -9}, "value": -5}}},
    "y": {"field": "y", "type": "quantitative", "axis": {"orient": "right", "title": null, "labels": false, "grid": false, "values": [1e-16,2e-16,3e-16,4e-16,5e-16,6e-16,7e-16,8e-16,9e-16,1e-15,2e-15,3e-15,4e-15,5e-15,6e-15,7e-15,8e-15,9e-15,1e-14,2e-14,3e-14,4e-14,5e-14,6e-14,7e-14,8e-14,9e-14,1e-13,2e-13,3e-13,4e-13,5e-13,6e-13,7e-13,8e-13,9e-13,1e-12,2e-12,3e-12,4e-12,5e-12,6e-12,7e-12,8e-12,9e-12,1e-11,2e-11,3e-11,4e-11,5e-11,6e-11,7e-11,8e-11,9e-11,1e-10,2e-10,3e-10,4e-10,5e-10,6e-10,7e-10,8e-10,9e-10,1e-9,2e-9,3e-9,4e-9,5e-9,6e-9,7e-9,8e-9,9e-9,1e-8,2e-8,3e-8,4e-8,5e-8,6e-8,7e-8,8e-8,9e-8,1e-7,2e-7,3e-7,4e-7,5e-7,6e-7,7e-7,8e-7,9e-7,1e-6,2e-6,3e-6,4e-6,5e-6,6e-6,7e-6,8e-6,9e-6,1e-5,2e-5,3e-5,4e-5,5e-5,6e-5,7e-5,8e-5,9e-5,1e-4,2e-4,3e-4,4e-4,5e-4,6e-4,7e-4,8e-4,9e-4,1e-3,2e-3,3e-3,4e-3,5e-3,6e-3,7e-3,8e-3,9e-3,1e-2], "tickSize": {"condition": {"test": "abs(log(datum.value)/LN10 - round(log(datum.value)/LN10)) < 0.01", "value": -9}, "value": -5}}}
   }
  }
 ],
 "resolve": {"axis": {"x": "independent", "y": "independent"}}
}
]
}
